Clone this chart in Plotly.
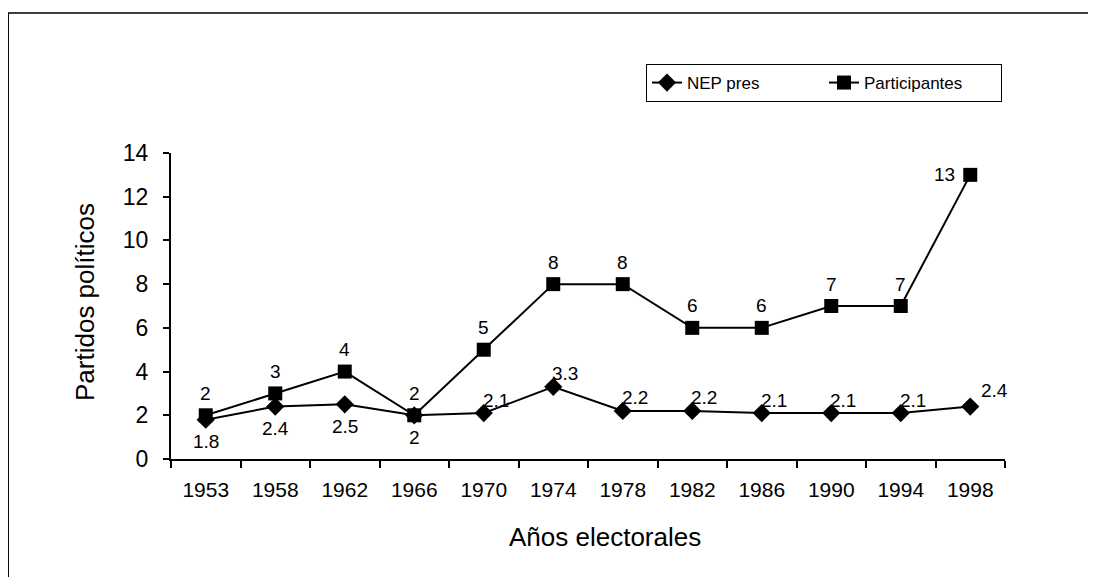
import plotly.graph_objects as go

years = ["1953", "1958", "1962", "1966", "1970", "1974", "1978", "1982", "1986", "1990", "1994", "1998"]
nep_pres = [1.8, 2.4, 2.5, 2, 2.1, 3.3, 2.2, 2.2, 2.1, 2.1, 2.1, 2.4]
participantes = [2, 3, 4, 2, 5, 8, 8, 6, 6, 7, 7, 13]
y_ticks = [0, 2, 4, 6, 8, 10, 12, 14]

# label placement codes per point
nep_place = ["below", "below", "below", "below", "over", "over", "over", "over", "over", "over", "over", "right"]
par_place = ["above"] * 11 + ["left"]
shifts = {"above": (0, 22), "below": (0, -22), "left": (-26, 0), "over": (12, 13), "right": (24, 16)}

FONT = "Liberation Sans, Arial, sans-serif"

# page has an 8px body margin on every side; keep the figure inside the viewport
OFF = 8
W, H = 1096 - OFF, 585 - 2 * OFF
L = 171 - OFF
T = 153 - OFF
R = W - (1005 - OFF)
B = H - (459 - OFF)
pw, ph = W - L - R, H - T - B


def px_x(px):
    return (px - OFF - L) / pw


def px_y(py):
    return (H - B - (py - OFF)) / ph


fig = go.Figure()
fig.add_trace(go.Scatter(
    x=years, y=nep_pres, name="NEP pres", mode="lines+markers",
    line=dict(color="black", width=2),
    marker=dict(symbol="diamond", size=14, color="black"),
))
fig.add_trace(go.Scatter(
    x=years, y=participantes, name="Participantes", mode="lines+markers",
    line=dict(color="black", width=2),
    marker=dict(symbol="square", size=14, color="black"),
))

annotations = []
for vals, places in ((nep_pres, nep_place), (participantes, par_place)):
    for i, (yv, p) in enumerate(zip(vals, places)):
        dx, dy = shifts[p]
        annotations.append(dict(
            x=i, y=yv, xref="x", yref="y", text=f"{yv:g}", showarrow=False,
            xshift=dx, yshift=dy, xanchor="center", yanchor="middle",
            font=dict(family=FONT, size=19, color="black"),
        ))

# axis titles
annotations.append(dict(
    x=px_x(605), y=px_y(537), xref="paper", yref="paper", text="Años electorales",
    showarrow=False, xanchor="center", yanchor="middle",
    font=dict(family=FONT, size=26, color="black"),
))
annotations.append(dict(
    x=px_x(85), y=px_y(302), xref="paper", yref="paper", text="Partidos políticos",
    showarrow=False, xanchor="center", yanchor="middle", textangle=-90,
    font=dict(family=FONT, size=26, color="black"),
))

bx, bt, bb, br = px_x(8.2), px_y(13), px_y(600), px_x(1200)
border_path = f"M {bx},{bb} L {bx},{bt} L {br},{bt}"

fig.update_layout(
    width=W, height=H,
    margin=dict(l=L, r=R, t=T, b=B, pad=0),
    paper_bgcolor="white", plot_bgcolor="white",
    font=dict(family=FONT, color="black"),
    showlegend=True,
    legend=dict(
        orientation="h", x=px_x(1002), xanchor="right", y=px_y(83), yanchor="middle",
        bordercolor="black", borderwidth=1, bgcolor="white",
        font=dict(family=FONT, size=17, color="black"),
        entrywidth=132, entrywidthmode="pixels",
    ),
    annotations=annotations,
    shapes=[dict(type="path", xref="paper", yref="paper", path=border_path,
                 line=dict(color="black", width=1.5), fillcolor="rgba(0,0,0,0)")],
)

fig.update_xaxes(
    type="category", range=[-0.5, 11.5],
    showline=True, linecolor="black", linewidth=2,
    ticks="outside", tickson="boundaries", ticklen=7, tickwidth=1.5, tickcolor="black",
    showgrid=False, zeroline=False,
    tickfont=dict(family=FONT, size=21, color="black"),
    ticklabelstandoff=11,
)
fig.update_yaxes(
    range=[0, 14], tickvals=y_ticks,
    showline=True, linecolor="black", linewidth=2,
    ticks="outside", ticklen=6, tickwidth=1.5, tickcolor="black",
    showgrid=False, zeroline=False,
    tickfont=dict(family=FONT, size=23, color="black"),
    ticklabelstandoff=10,
)

fig.write_html("out.html")
